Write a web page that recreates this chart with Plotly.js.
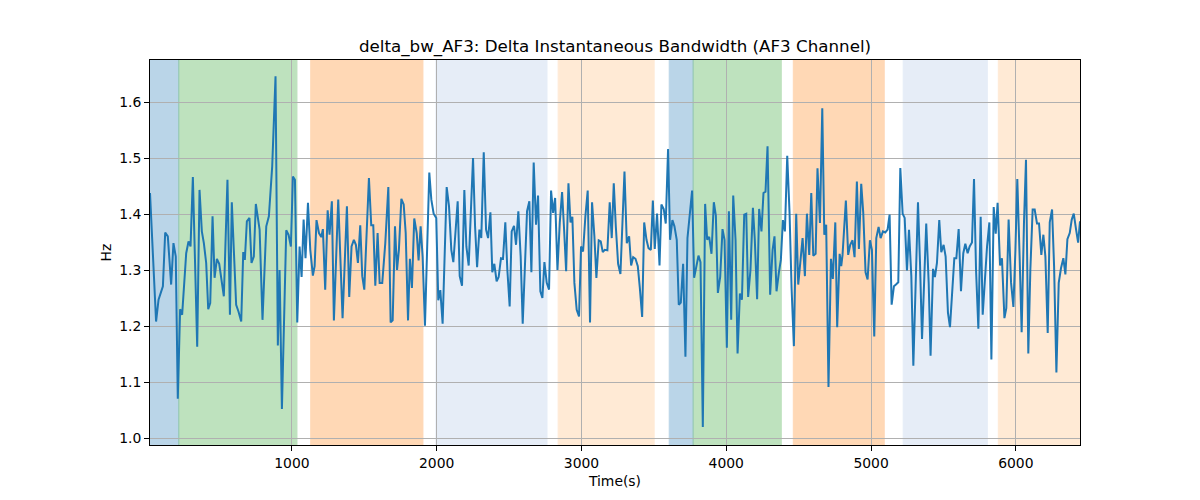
<!DOCTYPE html>
<html>
<head>
<meta charset="utf-8">
<script src="https://cdn.plot.ly/plotly-3.0.1.min.js"></script>
<style>
html,body{margin:0;padding:0;background:#fff;}
#chart{width:1200px;height:500px;}
</style>
</head>
<body>
<div id="chart"></div>
<script>
// Time (s) of each sample
const timeS = [
20,62,79,109,125,143,166,182,198,212,228,242,270,286,300,316,346,362,378,392,408,422,436,452,466,482,498,512,530,555,572,585,599,615,631,650,664,675,689,707,721,737,751,777,797,
823,841,864,887,903,915,931,961,977,993,1007,1021,1037,1053,1067,1081,1094,1111,1127,1145,1157,1170,1187,1203,1214,1230,1247,1260,1276,1290,1320,1350,1380,1396,1412,1428,1442,1456,1472,1486,1500,1532,1548,1562,1576,1592,1606,
1624,1645,1666,1682,1696,1712,1726,1739,1756,1772,1786,1802,1815,1829,1845,1862,1875,1889,1903,1919,1949,1963,1979,1997,2011,2025,2041,2069,2085,2101,2115,2129,2145,2159,2175,2191,2205,2221,2251,2265,2279,2295,2308,2325,2341,2355,2371,2384,2398,
2414,2428,2444,2458,2474,2488,2504,2518,2534,2548,2564,2580,2594,2610,2624,2640,2654,2670,2686,2700,2716,2730,2744,2760,2776,2790,2804,2818,2834,2850,2866,2880,2894,2910,2924,2937,2951,2967,2983,2997,3011,3027,3043,3059,3073,3089,3103,3119,3133,3147,3161,3179,3195,
3209,3223,3237,3253,3269,3283,3297,3313,3329,3343,3357,3373,3389,3403,3419,3433,3449,3463,3479,3493,3506,3522,3539,3552,3568,3582,3598,3612,3628,3642,3658,3672,3686,3702,3718,3732,3748,3764,3778,3794,3808,3822,3838,3854,3868,3882,3898,3914,3928,3942,3958,3974,3988,4004,
4018,4034,4048,4064,4078,4094,4108,4124,4138,4151,4167,4184,4197,4213,4227,4243,4257,4271,4285,4303,4320,4333,4347,4363,4377,4391,4405,4421,4437,4451,4467,4483,4497,4511,4527,4543,4557,4573,4587,4601,4617,4630,4647,4663,4677,4690,4706,4723,4736,4753,4766,4783,4794,
4803,4826,4842,4856,4872,4886,4902,4916,4932,4946,4962,4976,4992,5006,5022,5036,5052,5066,5082,5098,5114,5128,5142,5158,5172,5188,5202,5218,5232,5248,5262,5278,5292,5308,5324,5338,5352,5368,5381,5398,5411,5428,5441,5455,5471,5485,5501,5515,5531,5545,5561,5575,
5589,5605,5621,5637,5651,5667,5681,5697,5711,5725,5741,5757,5771,5787,5801,5817,5831,5847,5861,5874,5891,5904,5921,5934,5950,5967,5983,5997,6010,6026,6040,6056,6070,6086,6100,6116,6130,6146,6160,6176,6190,6204,6220,6234,6250,6264,6280,6296,6312,6328,6342,6356,6372,6386,6400,6416,6430,6443
];

// Delta instantaneous bandwidth (Hz)
const deltaBw = [
1.4375,1.208,1.247,1.271,1.367,1.36,1.274,1.348,1.324,1.07,1.23,1.22,1.33,1.351,1.342,1.466,1.163,1.443,1.369,1.348,1.3125,1.23,1.241,1.396,1.286,1.32,1.311,1.289,1.253,1.461,1.22,1.421,1.336,1.238,1.226,1.208,1.332,1.318,1.387,1.393,1.3125,1.324,1.418,1.372,1.211,
1.378,1.396,1.485,1.646,1.165,1.30,1.052,1.371,1.363,1.342,1.467,1.461,1.2065,1.342,1.2875,1.39,1.321,1.42,1.336,1.29,1.307,1.389,1.366,1.359,1.373,1.265,1.4065,1.363,1.4226,1.21,1.4256,1.2137,1.4137,1.2518,1.342,1.354,1.345,1.3125,1.38,1.289,1.265,1.464,1.38,1.38,1.272,1.366,1.277,
1.277,1.348,1.448,1.2065,1.21,1.378,1.30,1.336,1.427,1.417,1.366,1.21,1.32,1.268,1.392,1.366,1.317,1.378,1.324,1.2006,1.474,1.4256,1.4006,1.393,1.246,1.264,1.204,1.448,1.414,1.336,1.314,1.366,1.4226,1.289,1.272,1.443,1.342,1.308,1.50,1.378,1.305,1.372,1.357,1.51,1.372,1.357,1.403,1.296,1.311,
1.2798,1.2875,1.321,1.32,1.385,1.30,1.235,1.369,1.379,1.345,1.405,1.324,1.204,1.321,1.405,1.4226,1.296,1.492,1.381,1.433,1.262,1.25,1.314,1.277,1.265,1.442,1.402,1.4286,1.30,1.384,1.439,1.372,1.298,1.455,1.385,1.395,1.277,1.229,1.217,1.342,1.333,1.396,1.442,1.2065,1.421,1.361,1.286,1.353,1.351,1.332,1.336,1.335,1.421,
1.357,1.455,1.378,1.311,1.293,1.378,1.476,1.348,1.36,1.308,1.323,1.32,1.307,1.268,1.216,1.385,1.354,1.339,1.336,1.424,1.3375,1.4006,1.308,1.417,1.409,1.383,1.516,1.354,1.389,1.378,1.354,1.238,1.242,1.311,1.145,1.357,1.402,1.442,1.286,1.3095,1.3256,1.314,1.0196,1.418,1.354,1.359,1.329,1.421,1.397,1.259,1.2875,1.373,1.354,1.161,
1.405,1.211,1.433,1.354,1.151,1.258,1.247,1.399,1.4006,1.2518,1.30,1.411,1.354,1.248,1.409,1.369,1.4375,1.44,1.521,1.256,1.336,1.36,1.262,1.295,1.318,1.389,1.369,1.504,1.402,1.268,1.164,1.4006,1.274,1.3125,1.357,1.289,1.4006,1.327,1.4375,1.3256,1.329,1.4815,1.384,1.589,1.363,1.381,1.091,1.32,1.284,1.385,1.198,1.329,1.307,
1.327,1.424,1.327,1.345,1.353,1.323,1.458,1.3375,1.454,1.402,1.296,1.283,1.353,1.336,1.1815,1.357,1.377,1.357,1.369,1.367,1.372,1.399,1.238,1.271,1.274,1.278,1.482,1.4006,1.393,1.299,1.372,1.289,1.129,1.258,1.421,1.3125,1.177,1.289,1.383,1.277,1.147,1.302,1.2875,1.3125,1.389,1.332,1.345,1.324,1.224,1.198,1.277,1.321,
1.321,1.373,1.262,1.33,1.347,1.33,1.342,1.349,1.4625,1.30,1.195,1.395,1.22,1.295,1.342,1.385,1.14,1.4125,1.365,1.42,1.308,1.321,1.214,1.232,1.39,1.277,1.234,1.336,1.4625,1.324,1.189,1.384,1.497,1.151,1.30,1.408,1.408,1.383,1.383,1.327,1.363,1.324,1.1875,1.385,1.408,1.307,1.117,1.277,1.3036,1.321,1.292,1.355,1.366,1.39,1.4006,1.372,1.349,1.387
];

// Shaded segments (s)
const spanStart = [20, 219, 1130, 1995, 2839, 3606, 3771, 4463, 5222, 5879];
const spanEnd   = [219, 1035, 1905, 2762, 3502, 3771, 4380, 5091, 5803, 6443];
const spanColor = ['#1f77b4','#2ca02c','#ff7f0e','#aec7e8','#ffbb78','#1f77b4','#2ca02c','#ff7f0e','#aec7e8','#ffbb78'];

const yTicks = [1.0, 1.1, 1.2, 1.3, 1.4, 1.5, 1.6];
const xTicks = [1000, 2000, 3000, 4000, 5000, 6000];

const shapes = spanStart.map((s, i) => ({
  type: 'rect', xref: 'x', yref: 'paper', layer: 'below',
  x0: s, x1: spanEnd[i], y0: 0, y1: 1,
  fillcolor: spanColor[i], opacity: 0.3,
  line: {color: spanColor[i], width: 1}
}));

const FONT = 'DejaVu Sans, sans-serif';

const trace = {
  x: timeS, y: deltaBw, type: 'scatter', mode: 'lines',
  line: {color: '#1f77b4', width: 2}, hoverinfo: 'skip'
};

const axisCommon = {
  showline: true, linecolor: '#000', linewidth: 1, mirror: true,
  ticks: 'outside', ticklen: 5, tickwidth: 1, tickcolor: '#000',
  showgrid: true, gridcolor: '#b0b0b0', gridwidth: 1,
  zeroline: false,
  tickfont: {family: FONT, size: 13.9, color: '#000'}
};

const layout = {
  width: 1200, height: 500,
  margin: {l: 150, r: 120, t: 60, b: 55},
  paper_bgcolor: '#fff', plot_bgcolor: '#fff',
  showlegend: false,
  title: {
    text: 'delta_bw_AF3: Delta Instantaneous Bandwidth (AF3 Channel)',
    font: {family: FONT, size: 16.7, color: '#000'},
    x: 0.5125, xanchor: 'center', xref: 'container',
    y: 1 - 46/500, yanchor: 'middle', yref: 'container'
  },
  xaxis: Object.assign({}, axisCommon, {
    range: [20, 6443], tickvals: xTicks, ticktext: xTicks.map(String),
    title: {text: 'Time(s)', font: {family: FONT, size: 13.9, color: '#000'}, standoff: 6}
  }),
  yaxis: Object.assign({}, axisCommon, {
    range: [0.9875, 1.675], tickvals: yTicks, ticktext: yTicks.map(v => v.toFixed(1)),
    title: {text: 'Hz', font: {family: FONT, size: 13.9, color: '#000'}, standoff: 4}
  }),
  shapes: shapes
};

Plotly.newPlot('chart', [trace], layout, {displayModeBar: false, staticPlot: true});
</script>
</body>
</html>
